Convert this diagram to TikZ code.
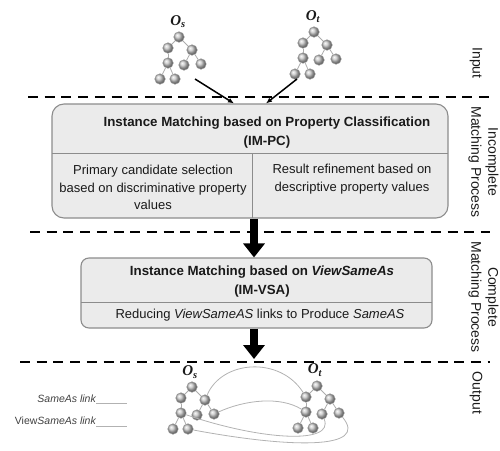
\documentclass[tikz,border=0pt]{standalone}
\usepackage{fontspec}
\setmainfont{Liberation Sans}
\newfontfamily\serifO{Liberation Serif}
\usetikzlibrary{arrows.meta}
\definecolor{txt}{HTML}{1A1A1A}
\definecolor{boxfill}{HTML}{EBEBEB}
\definecolor{boxline}{HTML}{8C8C8C}
\begin{document}
\begin{tikzpicture}[x=1pt,y=-1pt,
  tn/.style={circle, inner sep=0pt, minimum size=10.5pt, shade, ball color=black!22, draw=gray!80, line width=0.5pt},
  te/.style={draw=gray!65, line width=0.8pt},
  olab/.style={font=\serifO\bfseries\itshape\fontsize{15}{15}\selectfont, text=txt, inner sep=0pt},
  mbox/.style={draw=boxline, line width=1.1pt, fill=boxfill, inner sep=0pt},
  ttl/.style={font=\bfseries\fontsize{13.3}{19}\selectfont, text=txt, align=center, inner sep=0pt},
  cell/.style={font=\fontsize{13}{17.5}\selectfont, text=txt, align=center, inner sep=0pt},
  sep/.style={draw=boxline, line width=0.9pt},
  dline/.style={line width=2.3pt, dash pattern=on 10pt off 6.7pt},
  inarrow/.style={line width=1.5pt, -{Latex[length=6pt,width=5pt]}},
  blk/.style={line width=8pt, -{Triangle[length=14pt,width=21pt]}},
  link/.style={draw=gray!60, line width=0.8pt},
  leg/.style={font=\itshape\fontsize{10.5}{12}\selectfont, text=black!75, inner sep=0pt},
  side/.style={font=\fontsize{14}{17}\selectfont, text=txt, align=center, inner sep=0pt},
  tree/.pic={
    \node[tn] (-r) at (0,0) {};
    \node[tn] (-a) at (-11,11) {};
    \node[tn] (-b) at (13,13) {};
    \node[tn] (-aa) at (-11,26) {};
    \node[tn] (-ba) at (5,28) {};
    \node[tn] (-bb) at (22,27) {};
    \node[tn] (-aaa) at (-19,42) {};
    \node[tn] (-aab) at (-4,42) {};
    \draw[te] (-r) -- (-a);
    \draw[te] (-r) -- (-b);
    \draw[te] (-a) -- (-aa);
    \draw[te] (-b) -- (-ba);
    \draw[te] (-b) -- (-bb);
    \draw[te] (-aa) -- (-aaa);
    \draw[te] (-aa) -- (-aab);
  }]
\useasboundingbox (0,0) rectangle (500,450);

% separators
\draw[dline] (28,97) -- (490,97);
\draw[dline] (30,232) -- (490,232);
\draw[dline] (20,362) -- (490,362);

% side labels
\node[side, rotate=-90] (sin) at (476,63) {Input};
\node[side, rotate=-90] (sinc) at (483.5,162) {Incomplete\\Matching Process};
\node[side, rotate=-90] (scom) at (483.5,297) {Complete\\Matching Process};
\node[side, rotate=-90] (sout) at (476,393) {Output};

% input trees
\pic (osin) at (179,37) {tree};
\pic (otin) at (314,32) {tree};
\node[olab] (osinlab) at (178,22) {O\textsubscript{s}};
\node[olab] (otinlab) at (313,17) {O\textsubscript{t}};

% box 1
\node[mbox, rounded corners=12pt, minimum width=396pt, minimum height=114pt] (pc) at (250,161) {};
\draw[sep] (52,153) -- (448,153);
\draw[sep] (252,153) -- (252,218);
\node[ttl] (pct) at (267,133) {Instance Matching based on Property Classification\\(IM-PC)};
\node[cell] (pcl) at (153,187.5) {Primary candidate selection\\based on discriminative property\\values};
\node[cell] (pcr) at (352,179) {Result refinement based on\\descriptive property values};

% input arrows
\coordinate (ina) at (195,79);
\coordinate (inb) at (297,79);
\draw[inarrow] (ina) -- ([xshift=-16pt]pc.north);
\draw[inarrow] (inb) -- ([xshift=16pt]pc.north);

% box 2
\node[mbox, rounded corners=8pt, minimum width=351pt, minimum height=70pt] (vsa) at (256.5,293) {};
\draw[sep] (81,302) -- (432,302);
\node[ttl] (vsat) at (262,282) {Instance Matching based on \textit{ViewSameAs}\\(IM-VSA)};
\node[cell] (vsab) at (260,315) {Reducing \textit{ViewSameAS} links to Produce \textit{SameAS}};

% block arrows
\draw[blk] ([xshift=4pt]pc.south) -- ([xshift=4pt]pc.south |- vsa.north);
\coordinate (out2) at (254,359);
\draw[blk] (vsa.south -| out2) -- (out2);

% output trees
\pic (osout) at (192,387) {tree};
\pic (otout) at (317,386) {tree};
\node[olab] (osoutlab) at (190,372) {O\textsubscript{s}};
\node[olab] (otoutlab) at (315,370) {O\textsubscript{t}};

% links
\draw[link] (osout-b) .. controls (222,360) and (280,356) .. (otout-a);
\draw[link] (osout-bb) .. controls (245,400) and (280,396) .. (otout-aa);
\draw[link] (osout-aa) .. controls (260,440) and (335,445) .. (otout-ba);
\draw[link] (osout-aab) .. controls (290,448) and (370,450) .. (otout-bb);

% legend
\node[leg, anchor=base east] (l1) at (96,402) {SameAs link};
\node[leg, anchor=base east] (l2) at (96,424) {\upshape View\itshape SameAs link};
\coordinate (l1a) at (96,403);
\coordinate (l1b) at (127,403);
\coordinate (l2a) at (96,426);
\coordinate (l2b) at (127,426);
\draw[link] (l1a) -- (l1b);
\draw[link] (l2a) -- (l2b);
\end{tikzpicture}
\end{document}
